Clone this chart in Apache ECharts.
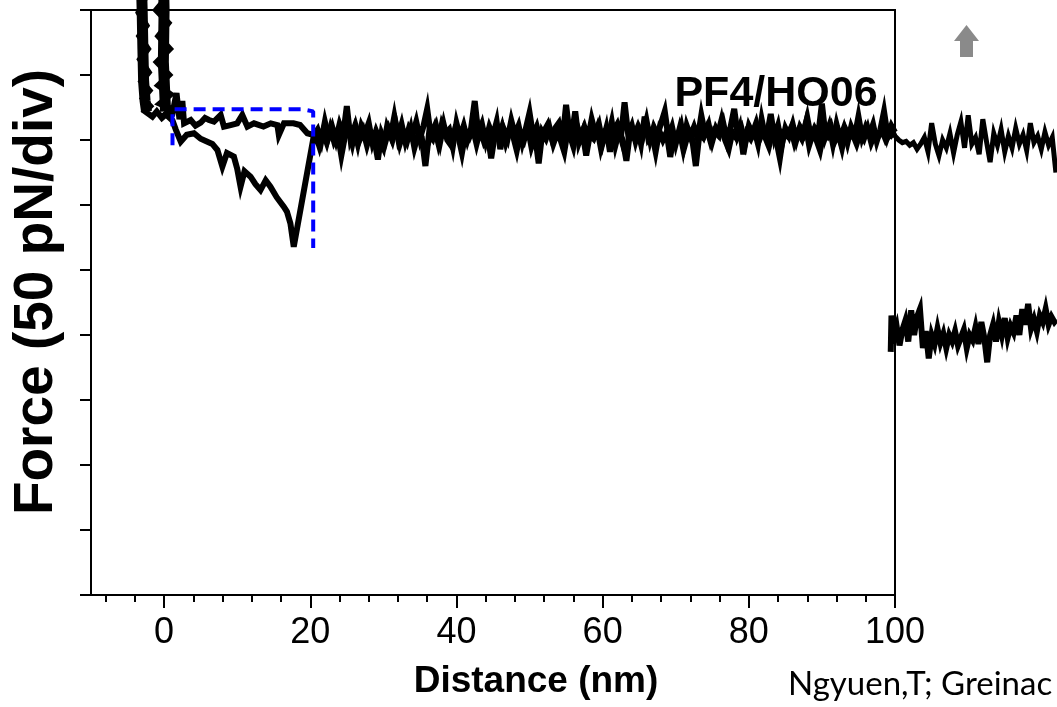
<!DOCTYPE html>
<html>
<head>
<meta charset="utf-8">
<script src="https://cdn.jsdelivr.net/npm/echarts@6/dist/echarts.min.js"></script>
<style>
html,body{margin:0;padding:0;background:#fff;}
#chart{width:1057px;height:707px;}
</style>
</head>
<body>
<div id="chart"></div>
<script>
// ---- axis ticks ----
const xMajorTicks = [0, 20, 40, 60, 80, 100];
const xMinorTicks = [-8, -4, 4, 8, 12, 16, 24, 28, 32, 36, 44, 48, 52, 56, 64, 68, 72, 76, 84, 88, 92, 96];

// ---- contact (steep) regions, drawn as thick strands ----
const approachContactX = [-3.3,-3.2,-3.0,-2.9,-2.8,-2.6,-2.4];
const approachContactF = [200,140,100,70,45,30,22];
const retractContactX = [-0.1,-0.2,0.0,-0.1,0.1,0.2];
const retractContactF = [200,150,100,60,35,22];

// ---- approach trace: contact part (distance nm, force pN) ----
const approachHeadX = [-3.4,-3.0,-3.9,-2.8,-3.7,-2.7,-3.5,-2.4,-3.4,-2.2,-3.3,-2.1,-3.1,-2.0,-2.9,-1.9,-2.6,-1.6,-1.0,-0.3,0.5,1.15,1.7,2.1,2.5,2.73,3.64,4.3,5.0,5.6,6.14,6.82,7.74,8.19,9.1,10.0,10.7,11.4,12.3,13.6,14.6,15.5,15.7,16.4,17.7,18.6,19.6,20.5];
const approachHeadF = [200,170,150,135,120,108,98,88,80,70,62,52,45,38,32,26,22,18,22,17,21,20.5,36,16,30,12.8,15.4,11,13.3,17,15.4,14.1,19.2,10.3,11.5,12.8,19.2,10.3,12.8,10.3,12.8,11.5,3.8,12.8,12.8,11.5,5.2,3.8];
// ---- approach trace: baseline part ----
const approachBaseX = [21,21.5,22,22.5,23,23.5,24,24.5,25,25.5,
  26,26.5,27,27.5,28,28.5,29,29.5,30,30.5,
  31,31.5,32,32.5,33,33.5,34,34.5,35,35.5,
  36,36.5,37,37.5,38,38.5,39,39.5,40,40.5,
  41,41.5,42,42.5,43,43.5,44,44.5,45,45.5,
  46,46.5,47,47.5,48,48.5,49,49.5,50,50.5,
  51,51.5,52,52.5,53,53.5,54,54.5,55,55.5,
  56,56.5,57,57.5,58,58.5,59,59.5,60,60.5,
  61,61.5,62,62.5,63,63.5,64,64.5,65,65.5,
  66,66.5,67,67.5,68,68.5,69,69.5,70,70.5,
  71,71.5,72,72.5,73,73.5,74,74.5,75,75.5,
  76,76.5,77,77.5,78,78.5,79,79.5,80,80.5,
  81,81.5,82,82.5,83,83.5,84,84.5,85,85.5,
  86,86.5,87,87.5,88,88.5,89,89.5,90,90.5,
  91,91.5,92,92.5,93,93.5,94,94.5,95,95.5,
  96,96.5,97,97.5,98,98.5,99,99.5,100];
const approachBaseF = [8,-1,14,2,10,0,12,4,26,1,
  9,-3,11,5,13,-2,7,0,-6,10,
  3,18,2,12,-1,9,4,14,1,11,
  24,3,10,-2,12,5,8,-5,13,2,
  11,0,9,30,4,12,-1,10,3,14,
  -7,8,1,15,4,11,-2,9,21,3,
  10,-1,7,12,2,9,13,0,27,4,
  -5,11,3,10,1,16,5,12,-2,9,
  -9,7,12,2,29,4,11,-1,9,3,
  15,0,10,4,13,22,2,10,-3,8,
  -6,11,3,10,1,19,5,12,-1,9,
  4,13,0,10,24,3,9,-2,11,5,
  13,1,8,4,20,2,11,-4,9,3,
  12,0,10,5,17,2,9,4,28,3,
  11,-3,12,1,9,-2,10,3,18,2,
  10,4,12,-1,8,22,3,11,6];

// ---- retract trace: contact + rupture part ----
const retractHeadX = [-0.3,0.6,-1.0,0.5,-0.9,0.7,-1.1,0.6,-0.8,0.8,-1.0,0.7,-0.8,0.9,-0.6,1.0,0.2,1.15,1.6,2.28,3.1,4.09,5.0,5.92,6.6,7.29,7.97,8.6,9.55,10.0,10.46,11.0,11.83,12.5,13.19,13.9,14.55,15.4,16.37,16.8,17.28,17.74,20.46];
const retractHeadF = [200,175,155,140,125,112,100,90,80,70,60,50,42,35,28,24,20,15,8,-1.3,4,5.2,1,-1.3,-3,-7.7,-20.5,-10,-12.8,-22,-35.9,-24,-28.2,-34,-38.5,-31,-35.9,-44,-51.3,-55,-64.1,-82.1,2.5];
// ---- retract trace: baseline part ----
const retractBaseX = [20.75,21.25,21.75,22.25,22.75,23.25,23.75,24.25,24.75,25.25,
  25.75,26.25,26.75,27.25,27.75,28.25,28.75,29.25,29.75,30.25,
  30.75,31.25,31.75,32.25,32.75,33.25,33.75,34.25,34.75,35.25,
  35.75,36.25,36.75,37.25,37.75,38.25,38.75,39.25,39.75,40.25,
  40.75,41.25,41.75,42.25,42.75,43.25,43.75,44.25,44.75,45.25,
  45.75,46.25,46.75,47.25,47.75,48.25,48.75,49.25,49.75,50.25,
  50.75,51.25,51.75,52.25,52.75,53.25,53.75,54.25,54.75,55.25,
  55.75,56.25,56.75,57.25,57.75,58.25,58.75,59.25,59.75,60.25,
  60.75,61.25,61.75,62.25,62.75,63.25,63.75,64.25,64.75,65.25,
  65.75,66.25,66.75,67.25,67.75,68.25,68.75,69.25,69.75,70.25,
  70.75,71.25,71.75,72.25,72.75,73.25,73.75,74.25,74.75,75.25,
  75.75,76.25,76.75,77.25,77.75,78.25,78.75,79.25,79.75,80.25,
  80.75,81.25,81.75,82.25,82.75,83.25,83.75,84.25,84.75,85.25,
  85.75,86.25,86.75,87.25,87.75,88.25,88.75,89.25,89.75,90.25,
  90.75,91.25,91.75,92.25,92.75,93.25,93.75,94.25,94.75,95.25,
  95.75,96.25,96.75,97.25,97.75,98.25,98.75,99.25,99.75];
const retractBaseF = [4,-5,6,-2,9,-1,5,-12,3,8,
  -3,10,0,7,-4,6,1,-15,5,-2,
  8,0,11,-3,6,-1,9,-6,4,2,
  -20,5,1,10,-2,12,0,-4,7,3,
  -10,6,2,9,-3,8,-1,5,-14,4,
  1,10,-2,7,3,-8,6,0,10,-5,
  4,-18,6,1,9,-3,5,0,-9,8,
  3,22,-2,6,-12,4,1,9,-6,5,
  2,14,-4,7,0,-16,6,2,9,-3,
  18,1,5,-9,7,0,6,-13,4,2,
  11,-4,6,1,-20,5,2,9,-1,7,
  4,15,0,-7,6,2,10,-11,5,1,
  8,-3,16,2,-5,7,0,-14,5,3,
  9,-2,6,1,12,-4,5,0,-8,6,
  3,10,-1,5,-6,8,2,4,-3,6,
  1,9,-2,5,3,7,0,4,2];

// ---- neighbouring panel traces visible at the right edge ----
const sideUpperX = [99.5,100,100.5,101,101.5,102,102.5,103,103.5,104,104.5,105,105.5,106,106.5,107,107.5,108,108.5,109,109.5,110,110.5,111,111.5,112,112.5,113,113.5,114,114.5,115,115.5,116,116.5,117,117.5,118,118.5,119,119.5,120,120.5,121,121.5,122];
const sideUpperF = [8,3,0,-2,-1,-4,-2,-7,-3,2,-9,13,-3,-12,0,-6,5,-10,4,14,-6,19,-3,2,-11,16,-1,-17,5,-4,8,-9,3,-6,9,-3,4,-8,13,-2,3,-7,6,-4,2,-25];
const sideLowerX = [99.4,99.5,99.8,100.2,100.6,101.0,101.4,101.8,102.2,102.6,103.0,103.4,103.8,104.2,104.6,105.0,105.4,105.8,106.2,106.6,107.0,107.4,107.8,108.2,108.6,109.0,109.4,109.8,110.2,110.6,111.0,111.4,111.8,112.2,112.6,113.0,113.4,113.8,114.2,114.6,115.0,115.4,115.8,116.2,116.6,117.0,117.4,117.8,118.2,118.6,119.0,119.4,119.8,120.2,120.6,121.0,121.4,121.8,122.1];
const sideLowerF = [-163,-135,-150,-143,-158,-146,-139,-155,-131,-150,-136,-130,-160,-147,-168,-150,-157,-145,-156,-149,-160,-150,-155,-147,-158,-152,-146,-160,-150,-154,-144,-157,-140,-152,-171,-150,-142,-155,-140,-150,-137,-152,-143,-148,-135,-150,-130,-142,-126,-145,-138,-147,-135,-140,-130,-142,-136,-140,-138];

// ---- dashed guide box ----
const boxX = [1.15, 1.15, 19.0, 20.4, 20.4];
const boxF = [-4, 23.6, 23.6, 22, -83];

const zip = (xs, ys) => xs.map((x, i) => [x, ys[i]]);

const chart = echarts.init(document.getElementById('chart'), null, {renderer: 'canvas'});
const FONT = '"Liberation Sans", Arial, sans-serif';
const blackLine = {color: '#000', width: 6, join: 'miter', miterLimit: 6};
const sideLine = {color: '#000', width: 6, join: 'miter', miterLimit: 6};
const contactLine = {color: '#000', width: 11, join: 'round', cap: 'butt'};

chart.setOption({
  animation: false,
  backgroundColor: '#fff',
  grid: [
    {left: 91, right: 162, top: 10, bottom: 112, show: true, borderColor: '#000', borderWidth: 2, backgroundColor: 'transparent'},
    {left: 890, right: 0, top: 10, bottom: 112, show: false}
  ],
  xAxis: [
    {
      type: 'value', gridIndex: 0, min: -10, max: 100, position: 'bottom',
      axisLine: {show: true, onZero: false, lineStyle: {color: '#000', width: 2}},
      axisTick: {show: true, inside: false, length: 13, lineStyle: {color: '#000', width: 2}, customValues: xMajorTicks},
      axisLabel: {show: true, customValues: xMajorTicks, color: '#000', fontSize: 36, fontFamily: FONT, margin: 20},
      splitLine: {show: false}
    },
    {
      type: 'value', gridIndex: 0, min: -10, max: 100, position: 'bottom',
      axisLine: {show: false, onZero: false},
      axisTick: {show: true, inside: false, length: 7, lineStyle: {color: '#000', width: 2}, customValues: xMinorTicks},
      axisLabel: {show: false},
      splitLine: {show: false}
    },
    {
      type: 'value', gridIndex: 1, min: 99.3, max: 122.15, show: false
    }
  ],
  yAxis: [
    {
      type: 'value', gridIndex: 0, min: -350, max: 100, interval: 50,
      axisLine: {show: true, onZero: false, lineStyle: {color: '#000', width: 2}},
      axisTick: {show: true, inside: false, length: 11, lineStyle: {color: '#000', width: 2}},
      axisLabel: {show: false},
      splitLine: {show: false}
    },
    {
      type: 'value', gridIndex: 1, min: -350, max: 100, show: false
    }
  ],
  series: [
    {type: 'line', name: 'approachContact', xAxisIndex: 0, yAxisIndex: 0, data: zip(approachContactX, approachContactF), showSymbol: false, clip: false, lineStyle: contactLine, z: 3},
    {type: 'line', name: 'retractContact', xAxisIndex: 0, yAxisIndex: 0, data: zip(retractContactX, retractContactF), showSymbol: false, clip: false, lineStyle: contactLine, z: 3},
    {type: 'line', name: 'approach', xAxisIndex: 0, yAxisIndex: 0, data: zip(approachHeadX, approachHeadF).concat(zip(approachBaseX, approachBaseF)), showSymbol: false, clip: false, lineStyle: blackLine, z: 3},
    {type: 'line', name: 'retract', xAxisIndex: 0, yAxisIndex: 0, data: zip(retractHeadX, retractHeadF).concat(zip(retractBaseX, retractBaseF)), showSymbol: false, clip: false, lineStyle: blackLine, z: 3},
    {type: 'line', name: 'sideUpper', xAxisIndex: 2, yAxisIndex: 1, data: zip(sideUpperX, sideUpperF), showSymbol: false, clip: false, lineStyle: {color: '#000', width: 5, join: 'miter', miterLimit: 6}, z: 3},
    {type: 'line', name: 'sideLower', xAxisIndex: 2, yAxisIndex: 1, data: zip(sideLowerX, sideLowerF), showSymbol: false, clip: false, lineStyle: sideLine, z: 3},
    {type: 'line', name: 'box', xAxisIndex: 0, yAxisIndex: 0, data: zip(boxX, boxF), showSymbol: false, clip: false, lineStyle: {color: '#0000ff', width: 4, type: [12, 7]}, z: 4}
  ],
  graphic: [
    {type: 'text', x: 37, y: 292, rotation: Math.PI / 2,
     style: {text: 'Force (50 pN/div)', fontSize: 55, fontWeight: 'bold', fontFamily: FONT, fill: '#000', align: 'center', verticalAlign: 'middle'}},
    {type: 'text', x: 536, y: 682,
     style: {text: 'Distance (nm)', fontSize: 37, fontWeight: 'bold', fontFamily: FONT, fill: '#000', align: 'center', verticalAlign: 'middle'}},
    {type: 'text', x: 776, y: 94, z: 10,
     style: {text: 'PF4/HO06', fontSize: 43, fontWeight: 'bold', fontFamily: FONT, fill: '#000', align: 'center', verticalAlign: 'middle'}},
    {type: 'text', x: 788, y: 684,
     style: {text: 'Ngyuen,T; Greinac', fontSize: 33, fontFamily: 'Lato, "Open Sans", sans-serif', fill: '#000', align: 'left', verticalAlign: 'middle'}},
    {type: 'polygon',
     shape: {points: [[954, 41], [966.5, 25], [979, 41], [973, 41], [973, 57], [960, 57], [960, 41]]},
     style: {fill: '#8a8a8a'}}
  ]
});
</script>
</body>
</html>
